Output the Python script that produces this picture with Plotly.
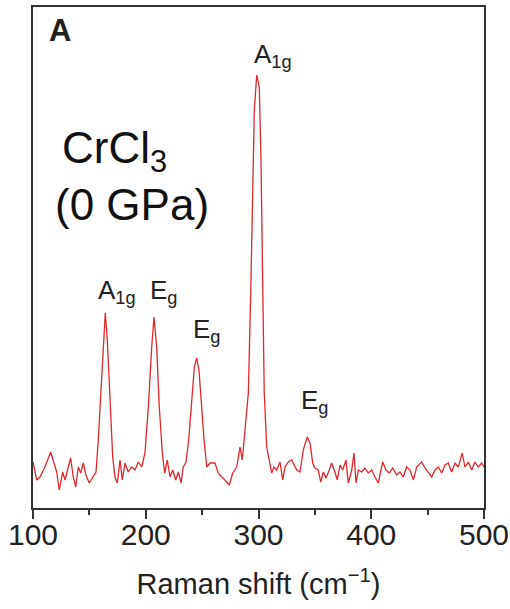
import plotly.graph_objects as go

# Raman spectrum of CrCl3 at ambient pressure (arbitrary intensity units)
raman_shift = [
    100.0, 103.3, 106.2, 110.6, 115.7, 118.6, 121.0, 123.3, 126.3, 128.4,
    130.4, 133.4, 135.7, 137.9, 140.2, 142.3, 144.6, 147.0, 149.9, 152.9,
    155.9, 157.9, 160.3, 162.4, 164.1, 165.9, 168.3, 170.7, 172.7, 174.8,
    177.2, 179.2, 181.6, 184.5, 187.5, 190.5, 193.4, 196.4, 199.3, 202.3,
    205.3, 207.3, 209.7, 212.0, 214.7, 216.8, 219.1, 221.5, 223.9, 226.6,
    228.9, 231.3, 233.3, 235.7, 238.1, 240.8, 243.1, 245.2, 247.2, 249.6,
    251.7, 254.1, 257.0, 261.4, 264.3, 267.4, 270.3, 274.1, 277.1, 280.7,
    283.6, 285.6, 288.0, 291.0, 293.1, 294.9, 296.3, 298.4, 300.7, 302.2,
    303.7, 305.1, 307.3, 309.6, 311.7, 313.7, 316.1, 319.1, 321.5, 323.5,
    326.4, 329.4, 331.5, 333.9, 336.8, 339.7, 343.3, 345.7, 348.1, 350.1,
    353.0, 355.2, 357.5, 359.9, 362.8, 364.9, 367.8, 369.9, 372.3, 374.7,
    377.6, 379.6, 382.7, 384.7, 386.5, 388.5, 391.5, 394.4, 397.4, 400.4,
    403.3, 406.2, 410.2, 413.1, 416.0, 419.0, 422.6, 425.5, 428.4, 431.4,
    434.4, 437.3, 440.3, 444.7, 447.7, 450.6, 453.6, 456.5, 459.5, 462.5,
    465.4, 468.3, 471.3, 474.3, 477.2, 480.7, 483.1, 486.1, 489.1, 492.0,
    494.9, 497.9, 500.0,
]
intensity = [
    46, 28, 31, 41, 56, 45, 36, 18, 36, 28,
    38, 50, 31, 21, 41, 35, 45, 33, 25, 30,
    36, 68, 118, 168, 195, 168, 101, 51, 31, 25,
    48, 28, 45, 36, 41, 38, 46, 41, 55, 101,
    161, 191, 161, 101, 55, 35, 48, 31, 38, 28,
    36, 25, 41, 46, 68, 111, 141, 150, 138, 101,
    68, 41, 45, 45, 35, 31, 28, 23, 35, 41,
    61, 48, 75, 115, 215, 315, 398, 433, 421, 348,
    215, 115, 61, 46, 35, 41, 38, 46, 28, 41,
    46, 48, 43, 38, 36, 58, 71, 65, 45, 40,
    38, 26, 36, 30, 38, 45, 36, 28, 43, 38,
    48, 25, 38, 55, 25, 38, 36, 40, 35, 38,
    31, 25, 46, 38, 35, 40, 33, 36, 31, 41,
    38, 28, 41, 46, 40, 35, 31, 38, 41, 35,
    43, 45, 36, 45, 41, 55, 41, 46, 38, 46,
    41, 45, 41,
]

# Mode assignments: label text, anchor position (shift, intensity)
mode_labels = ["A<sub>1g</sub>", "E<sub>g</sub>", "E<sub>g</sub>",
               "A<sub>1g</sub>", "E<sub>g</sub>"]
mode_x = [156.0, 202.0, 240.5, 294.2, 336.2]
mode_y = [235, 235, 196, 471, 125]

FONT = "Liberation Sans, Arial, Helvetica, sans-serif"
INK = "#222222"

fig = go.Figure()
fig.add_trace(go.Scatter(
    x=raman_shift, y=intensity, mode="lines",
    line=dict(color="#e2272d", width=1.3),
    hoverinfo="skip", showlegend=False,
))

annotations = []
for txt, ax, ay in zip(mode_labels, mode_x, mode_y):
    annotations.append(dict(
        x=ax, y=ay, xref="x", yref="y", text=txt, showarrow=False,
        xanchor="left", yanchor="top",
        font=dict(family=FONT, size=26, color=INK),
    ))

# panel letter and sample / pressure tag
annotations.append(dict(
    x=112.5, y=497, xref="x", yref="y", text="<b>A</b>", showarrow=False,
    xanchor="left", yanchor="top",
    font=dict(family=FONT, size=31, color=INK),
))
annotations.append(dict(
    x=124.0, y=387, xref="x", yref="y",
    text="CrCl<sub>3</sub>", showarrow=False,
    xanchor="left", yanchor="top", align="left",
    font=dict(family=FONT, size=44, color="#111111"),
))
annotations.append(dict(
    x=118.0, y=330, xref="x", yref="y",
    text="(0 GPa)", showarrow=False,
    xanchor="left", yanchor="top", align="left",
    font=dict(family=FONT, size=44, color="#111111"),
))

fig.update_layout(
    width=510, height=609,
    margin=dict(l=33, r=26, t=7, b=101),
    paper_bgcolor="white", plot_bgcolor="white",
    font=dict(family=FONT, color=INK),
    annotations=annotations,
    xaxis=dict(
        range=[100, 500], tickmode="linear", tick0=100, dtick=100,
        ticks="outside", ticklen=9, tickwidth=2, tickcolor="#333333",
        tickfont=dict(family=FONT, size=30, color=INK),
        ticklabelstandoff=-10,
        showgrid=False, zeroline=False, automargin=False,
        showline=True, linecolor="#333333", linewidth=2, mirror=True,
        minor=dict(ticks="outside", dtick=50, tick0=100, ticklen=5,
                   tickwidth=2, tickcolor="#333333", showgrid=False),
        title=dict(text="Raman shift (cm<sup>\u22121</sup>)",
                   font=dict(family=FONT, size=29, color=INK), standoff=24),
    ),
    yaxis=dict(
        range=[0, 501], showticklabels=False, ticks="",
        showgrid=False, zeroline=False, automargin=False,
        showline=True, linecolor="#333333", linewidth=2, mirror=True,
    ),
)

fig.write_html("out.html")
